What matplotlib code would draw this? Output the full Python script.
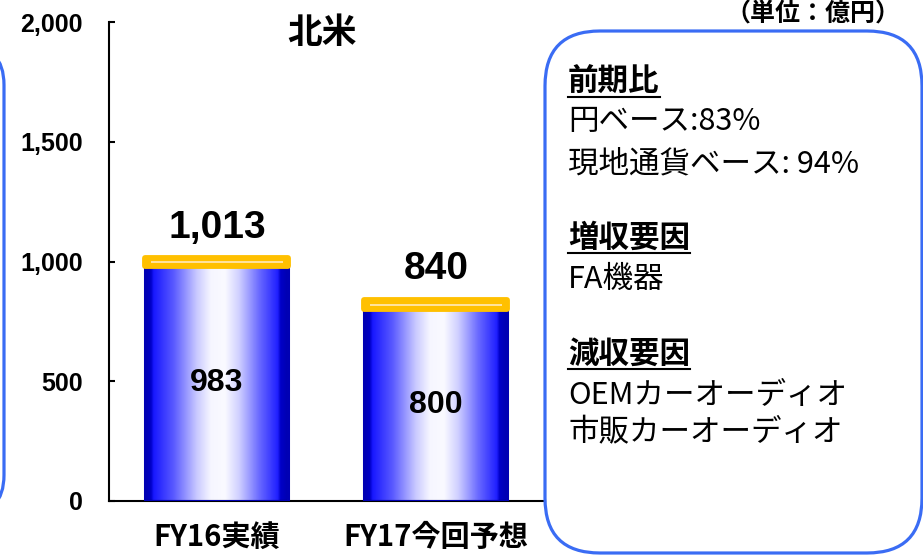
import matplotlib
matplotlib.use('Agg')
import matplotlib.pyplot as plt
import numpy as np
from matplotlib.colors import LinearSegmentedColormap
from matplotlib.patches import FancyBboxPatch
from matplotlib.lines import Line2D

plt.rcParams['font.family'] = ['Noto Sans CJK JP', 'DejaVu Sans']

# ---- data ----
categories = ['FY16実績', 'FY17今回予想']
base_values = [983, 800]
top_values = [30, 40]
totals = [1013, 840]
y_ticks = [0, 500, 1000, 1500, 2000]
title = '北米'
unit_label = '（単位：億円）'
note_lines = [
    ('前期比', True),
    ('円ベース:83%', False),
    ('現地通貨ベース: 94%', False),
    ('増収要因', True),
    ('FA機器', False),
    ('減収要因', True),
    ('OEMカーオーディオ', False),
    ('市販カーオーディオ', False),
]
note_y_px = [82, 122, 164, 238, 280, 354, 396, 433]

W, H = 923, 555
fig = plt.figure(figsize=(W / 100, H / 100), dpi=100)
ax = fig.add_axes([109 / W, 1 - 501 / H, (545 - 109) / W, (501 - 22) / H])

x = np.arange(len(categories))
width = 0.653

cmap = LinearSegmentedColormap.from_list('barblue', [
    (0.00, '#0000B0'), (0.04, '#0000C8'), (0.06, '#1818FF'), (0.20, '#5A5AFF'),
    (0.36, '#C8C8FF'), (0.46, '#F6F6FF'), (0.56, '#FAFAFF'), (0.66, '#CFCFFF'),
    (0.80, '#6A6AFF'), (0.93, '#2020FF'), (0.95, '#0000C8'), (1.00, '#0000B0')])
grad = np.linspace(0, 1, 256).reshape(1, -1)

blue_bars = ax.bar(x, base_values, width, color='none', edgecolor='#0000B4',
                   linewidth=2.2, zorder=3)
for rect in blue_bars:
    x0, w, h = rect.get_x(), rect.get_width(), rect.get_height()
    im = ax.imshow(grad, cmap=cmap, aspect='auto', extent=(x0, x0 + w, 0, h),
                   zorder=2, interpolation='bilinear')
    im.set_clip_path(rect)

caps = ax.bar(x, top_values, width, bottom=base_values, color='#FFC000',
              edgecolor='#FFC000', linewidth=4.2, zorder=4)
for c in caps:
    c.set_joinstyle('round')
ax.hlines([b + t / 2 for b, t in zip(base_values, top_values)],
          x - width * 0.46, x + width * 0.46, color='#FFE3A0', lw=1.4, zorder=5)

ax.set_xlim(-0.493, 1.498)
ax.set_ylim(0, 2000)

num_font = dict(family='Liberation Sans', weight='bold')
for xi, b, tot in zip(x, base_values, totals):
    ax.annotate(f'{tot:,}', (xi, tot), xytext=(0, 15), textcoords='offset points',
                ha='center', va='baseline', fontsize=28, **num_font)
    ax.text(xi, b / 2, f'{b:,}', ha='center', va='center', fontsize=23,
            zorder=6, **num_font)

ax.set_yticks(y_ticks)
ax.set_yticklabels([f'{v:,}' for v in y_ticks])
for lbl in ax.get_yticklabels():
    lbl.set_fontfamily('Liberation Sans')
    lbl.set_fontweight('bold')
ax.tick_params(axis='y', direction='in', length=4.5, width=1.5, pad=19, labelsize=18)
ax.set_xticks(x)
ax.set_xticklabels(categories, fontsize=21, fontweight='bold')
ax.tick_params(axis='x', length=0, pad=15)

for s in ['top', 'right']:
    ax.spines[s].set_visible(False)
for s in ['left', 'bottom']:
    ax.spines[s].set_linewidth(1.5)
    ax.spines[s].set_color('black')

fig.text(322 / W, 1 - 32 / H, title, ha='center', va='center', fontsize=25,
         fontweight='bold')
fig.text(813 / W, 1 - 14 / H, unit_label, ha='center', va='center', fontsize=18,
         fontweight='bold')

box_col = '#3A6CF4'
def px_box(x0, y0, x1, y1, r):
    return FancyBboxPatch((x0 / 100, (H - y1) / 100), (x1 - x0) / 100, (y1 - y0) / 100,
                          boxstyle=f'round,pad=0,rounding_size={r / 100}',
                          transform=fig.dpi_scale_trans, facecolor='none',
                          edgecolor=box_col, linewidth=2.3, zorder=10)
fig.add_artist(px_box(-300, 45, 4, 515, 40))
fig.add_artist(px_box(545, 31, 922, 553, 55))

texts = []
for (txt, bold), ypx in zip(note_lines, note_y_px):
    t = fig.text(568 / W, 1 - ypx / H, txt, ha='left', va='center', fontsize=22,
                 fontweight='bold' if bold else 'normal')
    texts.append((t, bold))

fig.canvas.draw()
for t, bold in texts:
    if bold:
        bb = t.get_window_extent()
        yl = bb.y0 + 1
        fig.add_artist(Line2D([bb.x0 / W, bb.x1 / W], [yl / H, yl / H],
                              transform=fig.transFigure, color='black', lw=1.5))

fig.savefig('out.png', dpi=100)
